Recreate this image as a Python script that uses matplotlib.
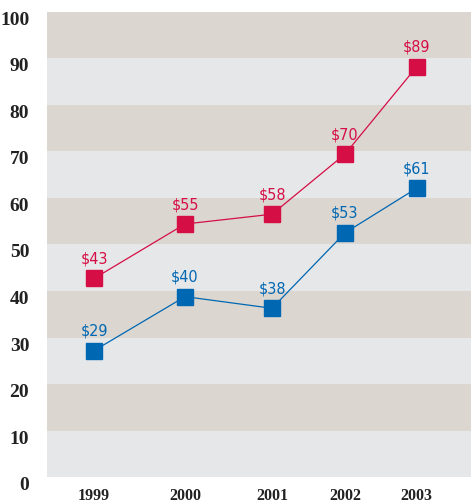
import matplotlib
matplotlib.use("Agg")
import matplotlib.pyplot as plt

years = ['1999', '2000', '2001', '2002', '2003']
# values as plotted and their printed labels
red_vals = [42.7, 54.4, 56.5, 69.4, 88.2]
red_labels = ['$43', '$55', '$58', '$70', '$89']
blue_vals = [27.2, 38.8, 36.3, 52.5, 62.1]
blue_labels = ['$29', '$40', '$38', '$53', '$61']
y_ticks = [0, 10, 20, 30, 40, 50, 60, 70, 80, 90, 100]

# horizontal spacing of the years is uneven in the original
x_pos = [0, 1.128, 2.206, 3.11, 4.0]

red = '#d50f45'
blue = '#0067b2'
tan = '#dbd6d0'
light = '#e6e7e9'

fig = plt.figure(figsize=(4.71, 5.04), dpi=100)
ax = fig.add_axes([0.1004, 0.053, 0.8996, 0.9238])

# alternating bands
for i in range(10):
    ax.axhspan(i * 10, i * 10 + 10, color=light if i % 2 == 0 else tan, lw=0, zorder=0)

ax.plot(x_pos, red_vals, color=red, lw=0.9, marker='s', ms=12, mec=red, mfc=red, zorder=3)
ax.plot(x_pos, blue_vals, color=blue, lw=0.9, marker='s', ms=12, mec=blue, mfc=blue, zorder=3)

for x, v, t in zip(x_pos, red_vals, red_labels):
    ax.annotate(t.replace('$', r'\$'), (x, v), xytext=(0, 14), textcoords='offset points',
                ha='center', va='center', color=red, fontsize=11.5,
                family='DejaVu Sans', fontstretch='condensed')
for x, v, t in zip(x_pos, blue_vals, blue_labels):
    ax.annotate(t.replace('$', r'\$'), (x, v), xytext=(0, 14), textcoords='offset points',
                ha='center', va='center', color=blue, fontsize=11.5,
                family='DejaVu Sans', fontstretch='condensed')

ax.set_xlim(-0.579, 4.672)
ax.set_ylim(0, 100)
ax.set_xticks(x_pos)
ax.set_xticklabels(years, fontsize=11.5, fontweight='bold', family='Liberation Serif', color='#222222')
ax.set_yticks(y_ticks)
ax.set_yticklabels([str(t) for t in y_ticks], fontsize=14, fontweight='bold',
                   family='Liberation Serif', color='#222222', va='top')
ax.tick_params(axis='x', length=0, pad=8)
ax.tick_params(axis='y', length=0, pad=13)
for s in ax.spines.values():
    s.set_visible(False)

fig.savefig('out.png', dpi=100)
